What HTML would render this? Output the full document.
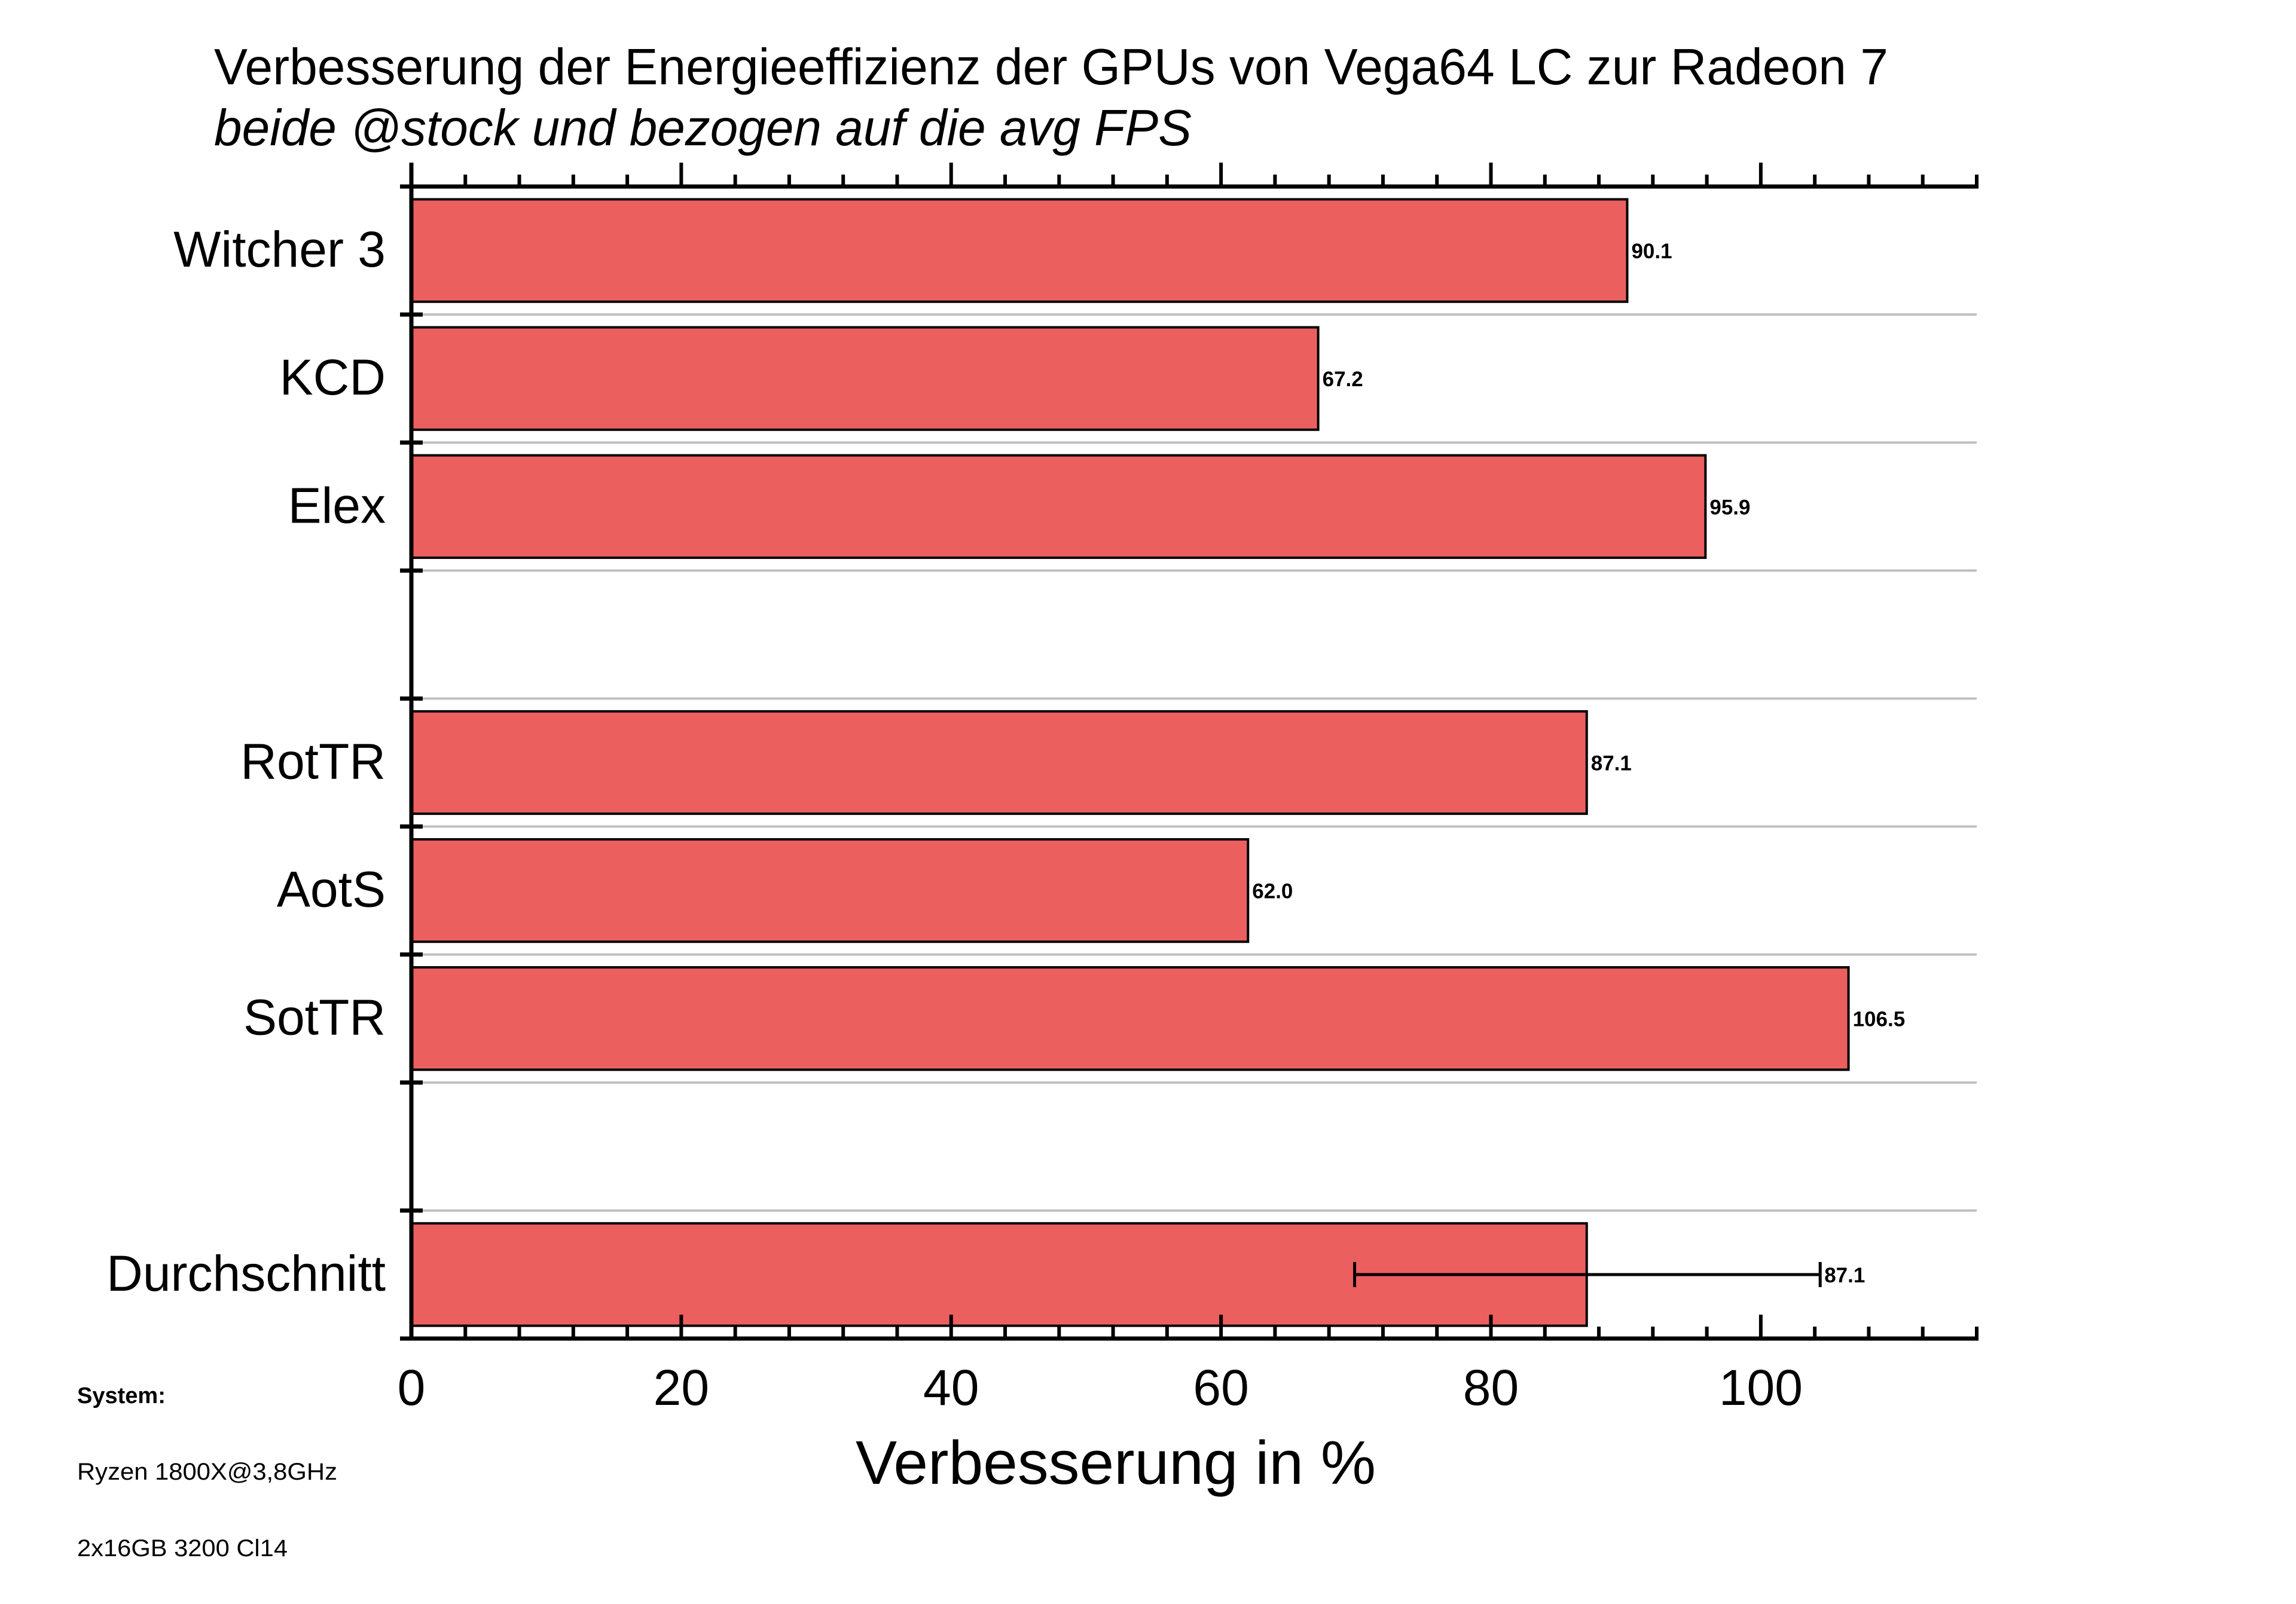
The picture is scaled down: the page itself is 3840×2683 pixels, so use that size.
<!DOCTYPE html>
<html><head><meta charset="utf-8"><style>html,body{margin:0;padding:0;background:#fff}svg{display:block}text{font-family:"Liberation Sans",Arial,sans-serif}</style></head>
<body>
<svg id="chart" width="3840" height="2683" viewBox="0 0 3840 2683" xmlns="http://www.w3.org/2000/svg">
<text x="358" y="141" font-size="85" textLength="2800" lengthAdjust="spacingAndGlyphs">Verbesserung der Energieeffizienz der GPUs von Vega64 LC zur Radeon 7</text>
<text x="358" y="243" font-size="85" font-style="italic" textLength="1635" lengthAdjust="spacingAndGlyphs">beide @stock und bezogen auf die avg FPS</text>
<g id="grid"></g>
<g id="bars"></g>
<g id="axes"></g>
<text x="1866" y="2482" font-size="103" text-anchor="middle" textLength="870" lengthAdjust="spacingAndGlyphs">Verbesserung in %</text>
<text x="129" y="2347" font-size="38" font-weight="bold">System:</text>
<text x="129" y="2475" font-size="40" textLength="435" lengthAdjust="spacingAndGlyphs">Ryzen 1800X@3,8GHz</text>
<text x="129" y="2603" font-size="40" textLength="352" lengthAdjust="spacingAndGlyphs">2x16GB 3200 Cl14</text>
</svg>
<script>
const categories = ["Witcher 3","KCD","Elex","","RotTR","AotS","SotTR","","Durchschnitt"];
const values = [90.1,67.2,95.9,null,87.1,62.0,106.5,null,87.1];
const errLow = [null,null,null,null,null,null,null,null,69.9];
const errHigh = [null,null,null,null,null,null,null,null,104.4];
const xTickLabels = ["0","20","40","60","80","100"];
const xMax = 116;

const NS="http://www.w3.org/2000/svg";
const X0=688, X1=3306, YT=312, YB=2239;
const slot=(YB-YT)/categories.length;
const xs=v=>X0+v*(X1-X0)/xMax;
const yTop=i=>YT+i*slot;
function mk(tag,attrs,parent){const e=document.createElementNS(NS,tag);for(const k in attrs)e.setAttribute(k,attrs[k]);parent.appendChild(e);return e;}
const grid=document.getElementById('grid'),bars=document.getElementById('bars'),axes=document.getElementById('axes');

for(let i=1;i<categories.length;i++){
  const g=mk('line',{x1:X0,x2:X1,y1:yTop(i),y2:yTop(i),stroke:'#c0c0c0','stroke-width':4},grid);
  
  
}
categories.forEach((c,i)=>{
  const cy=yTop(i)+slot/2;
  if(c){
    const t=mk('text',{x:645,y:cy+27,'font-size':84,'text-anchor':'end'},axes);t.textContent=c;
    
    
  }
  if(values[i]!=null){
    const h=slot*0.8;
    const r=mk('rect',{x:X0,y:cy-h/2,width:xs(values[i])-X0,height:h,fill:'#EC5F5F',stroke:'#000','stroke-width':4},bars);
    
    
    let lx=xs(values[i])+7;
    if(errHigh[i]!=null){
      const e=mk('g',{},bars);
      
      
      mk('line',{x1:xs(errLow[i]),x2:xs(errHigh[i]),y1:cy,y2:cy,stroke:'#000','stroke-width':5},e);
      mk('line',{x1:xs(errLow[i]),x2:xs(errLow[i]),y1:cy-21,y2:cy+21,stroke:'#000','stroke-width':5},e);
      mk('line',{x1:xs(errHigh[i]),x2:xs(errHigh[i]),y1:cy-21,y2:cy+21,stroke:'#000','stroke-width':5},e);
      lx=xs(errHigh[i])+7;
    }
    const vl=mk('text',{x:lx,y:cy+13,'font-size':35,'font-weight':'bold'},bars);vl.textContent=values[i].toFixed(1);
    
    
  }
});
mk('line',{x1:669,x2:X1+3,y1:YT,y2:YT,stroke:'#000','stroke-width':7},axes);
mk('line',{x1:669,x2:X1+3,y1:YB,y2:YB,stroke:'#000','stroke-width':7},axes);
mk('line',{x1:X0,x2:X0,y1:YT-40,y2:YB+3,stroke:'#000','stroke-width':7},axes);
for(let i=1;i<categories.length;i++){
  mk('line',{x1:669,x2:707,y1:yTop(i),y2:yTop(i),stroke:'#000','stroke-width':7},axes);
}
for(let v=0;v<=xMax;v+=4){
  const major=v%20===0, len=major?40:20, x=xs(v);
  mk('line',{x1:x,x2:x,y1:YT,y2:YT-len,stroke:'#000','stroke-width':6},axes);
  mk('line',{x1:x,x2:x,y1:YB,y2:YB-len,stroke:'#000','stroke-width':6},axes);
}
mk('line',{x1:X1,x2:X1,y1:YT,y2:YT-20,stroke:'#000','stroke-width':6},axes);
mk('line',{x1:X1,x2:X1,y1:YB,y2:YB-20,stroke:'#000','stroke-width':6},axes);
xTickLabels.forEach((l,k)=>{
  const t=mk('text',{x:xs(Number(l)),y:2350,'font-size':84,'text-anchor':'middle'},axes);t.textContent=l;
  
  
});
</script>
</body></html>
